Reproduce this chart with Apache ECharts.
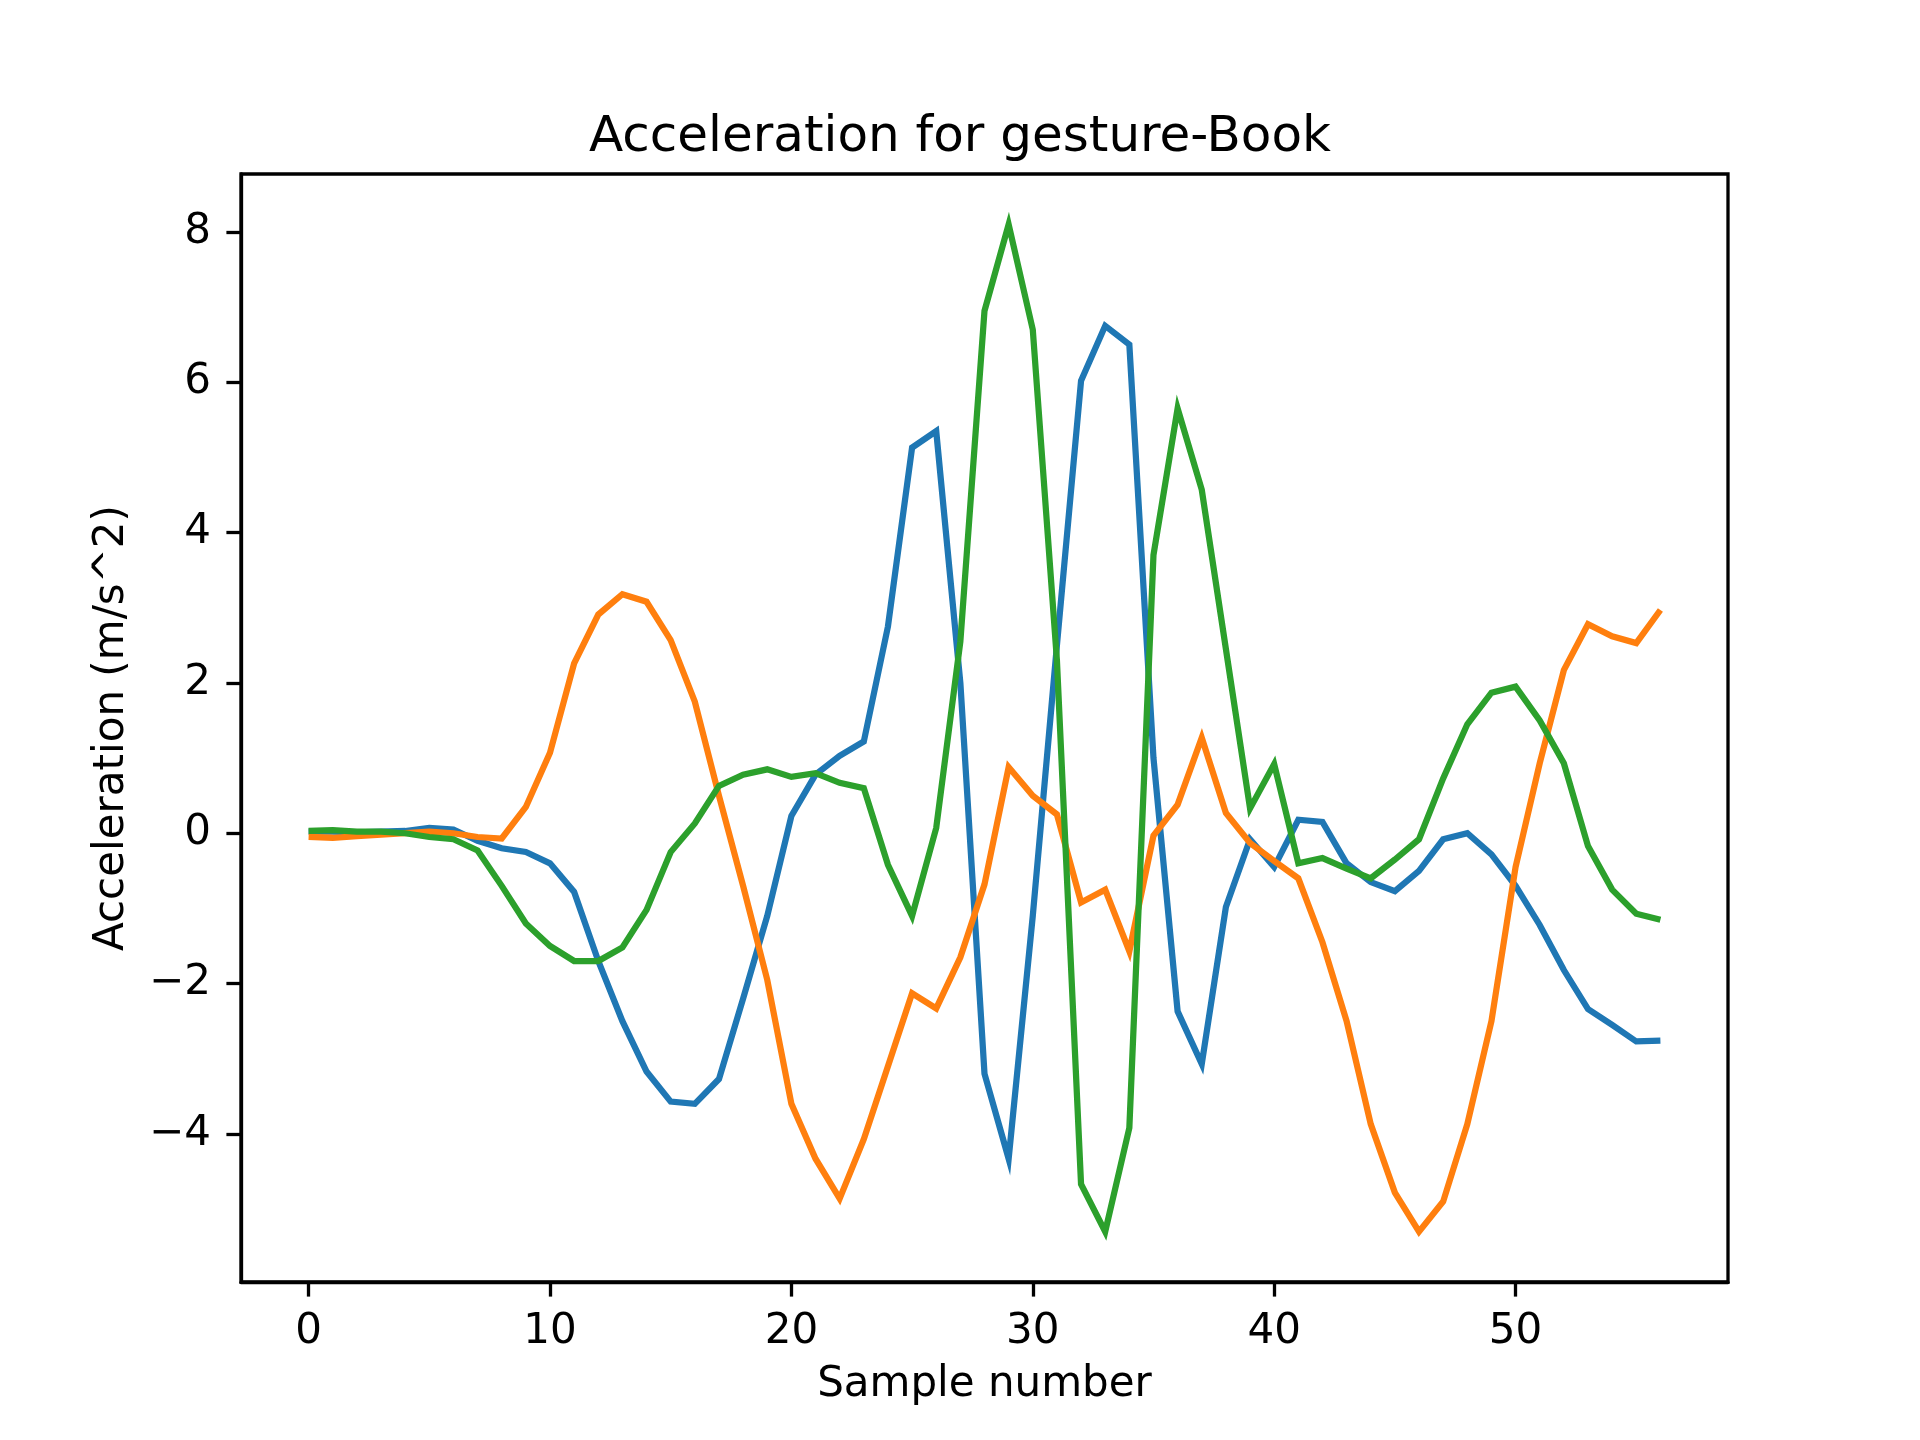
<!DOCTYPE html>
<html>
<head>
<meta charset="utf-8">
<script src="https://cdn.jsdelivr.net/npm/echarts@6/dist/echarts.min.js"></script>
<style>
  html, body { margin: 0; padding: 0; background: #fff; }
  #chart { width: 1920px; height: 1440px; }
</style>
</head>
<body>
<div id="chart"></div>
<script>
// acceleration samples
const blueValues = [0.02, 0.02, 0.01, 0.02, 0.03, 0.07, 0.05, -0.1, -0.2, -0.25, -0.4, -0.78, -1.7, -2.5, -3.17, -3.57, -3.6, -3.27, -2.2, -1.1,
  0.23, 0.78, 1.03, 1.22, 2.75, 5.13, 5.35, 2.0, -3.2, -4.33, -1.1, 2.5, 6.02, 6.75, 6.5, 1.0, -2.37, -3.07, -0.98, -0.08,
  -0.45, 0.18, 0.15, -0.4, -0.65, -0.77, -0.5, -0.08, 0.0, -0.28, -0.7, -1.22, -1.82, -2.34, -2.55, -2.77, -2.76];
const orangeValues = [-0.05, -0.06, -0.04, -0.02, 0.0, 0.02, 0.0, -0.05, -0.07, 0.35, 1.07, 2.26, 2.91, 3.18, 3.08, 2.57, 1.75, 0.5, -0.7, -1.95,
  -3.6, -4.33, -4.86, -4.07, -3.1, -2.13, -2.33, -1.65, -0.68, 0.88, 0.5, 0.25, -0.92, -0.75, -1.57, -0.03, 0.38, 1.27, 0.27, -0.13,
  -0.37, -0.6, -1.45, -2.5, -3.87, -4.78, -5.3, -4.9, -3.87, -2.5, -0.45, 0.93, 2.17, 2.78, 2.62, 2.53, 2.97];
const greenValues = [0.03, 0.04, 0.02, 0.02, 0.0, -0.05, -0.08, -0.23, -0.7, -1.2, -1.5, -1.7, -1.7, -1.52, -1.02, -0.25, 0.13, 0.63, 0.78, 0.85,
  0.75, 0.8, 0.67, 0.6, -0.42, -1.1, 0.07, 2.55, 6.95, 8.1, 6.7, 2.3, -4.67, -5.3, -3.92, 3.7, 5.65, 4.57, 2.45, 0.33,
  0.92, -0.4, -0.33, -0.47, -0.6, -0.35, -0.08, 0.73, 1.45, 1.87, 1.95, 1.5, 0.93, -0.17, -0.75, -1.07, -1.15];
const xTicks = [0, 10, 20, 30, 40, 50];
const yTicks = [-4, -2, 0, 2, 4, 6, 8];

const font = 'DejaVu Sans';
function pairs(vals) {
  return vals.map((v, i) => [i, v]);
}
function lineSeries(vals, color) {
  return {
    type: 'line', data: pairs(vals), showSymbol: false, animation: false,
    lineStyle: { color: color, width: 6.25, join: 'miter', cap: 'butt' }
  };
}

const chart = echarts.init(document.getElementById('chart'));
chart.setOption({
  backgroundColor: '#fff',
  title: {
    text: 'Acceleration for gesture-Book', left: 'center', top: 108,
    textStyle: { fontFamily: font, fontSize: 50, fontWeight: 'normal', color: '#000' }
  },
  grid: { left: 241, right: 192, top: 174, bottom: 158 },
  xAxis: {
    type: 'value', min: -2.8, max: 58.8,
    name: 'Sample number', nameLocation: 'middle', nameGap: 82,
    nameTextStyle: { fontFamily: font, fontSize: 42, color: '#000' },
    axisLine: { onZero: false, lineStyle: { color: '#000', width: 3.3 } },
    axisTick: { show: true, customValues: xTicks, length: 14.6, inside: false, lineStyle: { color: '#000', width: 3.3 } },
    axisLabel: { customValues: xTicks, margin: 29, fontFamily: font, fontSize: 42, color: '#000' },
    splitLine: { show: false }
  },
  yAxis: {
    type: 'value', min: -5.97, max: 8.77,
    name: 'Acceleration (m/s^2)', nameLocation: 'middle', nameGap: 108,
    nameTextStyle: { fontFamily: font, fontSize: 42, color: '#000' },
    axisLine: { show: true, onZero: false, lineStyle: { color: '#000', width: 3.3 } },
    axisTick: { show: true, customValues: yTicks, length: 14.6, lineStyle: { color: '#000', width: 3.3 } },
    axisLabel: {
      customValues: yTicks, margin: 30, fontFamily: font, fontSize: 42, color: '#000',
      formatter: v => (v < 0 ? '\u2212' + Math.abs(v) : String(v))
    },
    splitLine: { show: false }
  },
  graphic: [{
    type: 'rect', z: 100, silent: true,
    shape: { x: 241, y: 174, width: 1487, height: 1108 },
    style: { fill: 'none', stroke: '#000', lineWidth: 3.3 }
  }],
  series: [
    lineSeries(blueValues, '#1f77b4'),
    lineSeries(orangeValues, '#ff7f0e'),
    lineSeries(greenValues, '#2ca02c')
  ]
});
</script>
</body>
</html>
